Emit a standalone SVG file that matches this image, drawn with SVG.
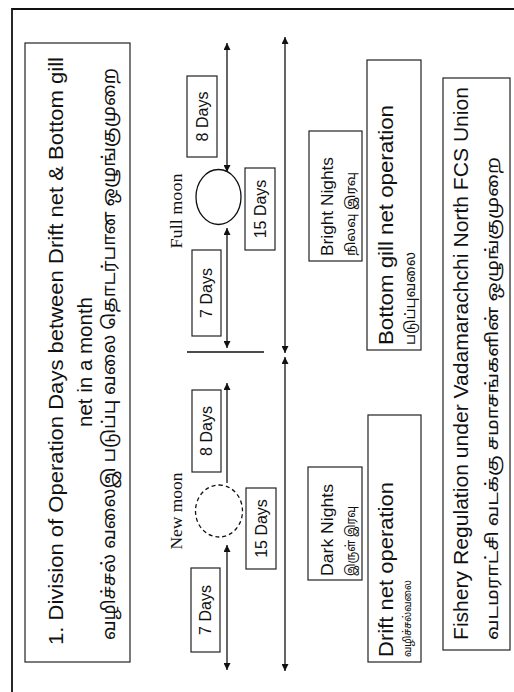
<svg xmlns="http://www.w3.org/2000/svg" width="514" height="692" viewBox="0 0 514 692">
<style>
.box{fill:#fff;stroke:#222;stroke-width:1.2}
.t{font-family:"Liberation Sans","Noto Sans",Arial,sans-serif;fill:#111}
.ta{font-family:"Noto Sans Tamil","Lohit Tamil","Latha","Noto Sans",sans-serif;fill:#111}
.s{font-family:"Liberation Serif","Times New Roman",serif;fill:#111}
.ln{stroke:#111;stroke-width:1.3;fill:none}
</style>
<defs>
<marker id="ah" viewBox="0 0 10 10" refX="10" refY="5" markerWidth="7" markerHeight="7" markerUnits="userSpaceOnUse" orient="auto-start-reverse">
<path d="M0,0 L10,5 L0,10 Z" fill="#111"/>
</marker>
</defs>
<rect width="514" height="692" fill="#fff"/>
<g id="frame">
<path d="M12,692 L12,9 L514,9" fill="none" stroke="#111" stroke-width="1.8"/>
</g>
<g transform="translate(0,692) rotate(-90)">
<g id="title">
<rect class="box" x="30" y="25" width="619" height="105"/>
<text class="t" x="341" y="63" font-size="20" text-anchor="middle" textLength="588" lengthAdjust="spacingAndGlyphs">1. Division of Operation Days between Drift net &amp; Bottom gill</text>
<text class="t" x="330" y="92" font-size="20" text-anchor="middle" textLength="130" lengthAdjust="spacingAndGlyphs">net in a month</text>
<text class="ta" x="338" y="115" font-size="18" text-anchor="middle" textLength="572" lengthAdjust="spacingAndGlyphs">வழிச்சல் வலைஇ படுப்பு வலை தொடர்பான ஒழுங்குமுறை</text>
</g>
<g id="full-moon">
<text class="s" x="481" y="182" font-size="16" text-anchor="middle" textLength="75" lengthAdjust="spacingAndGlyphs">Full moon</text>
<ellipse cx="495" cy="218.5" rx="27.5" ry="22.5" fill="none" stroke="#111" stroke-width="1.3"/>
</g>
<g id="full-8days">
<rect class="box" x="535" y="187" width="81" height="30"/>
<text class="t" x="575.5" y="208" font-size="16" text-anchor="middle">8 Days</text>
</g>
<g id="full-7days">
<rect class="box" x="356" y="192" width="86" height="29"/>
<text class="t" x="399" y="212" font-size="16" text-anchor="middle">7 Days</text>
</g>
<g id="full-15days">
<rect class="box" x="442" y="245" width="82" height="30"/>
<text class="t" x="483" y="266" font-size="16" text-anchor="middle">15 Days</text>
</g>
<g id="new-moon">
<text class="s" x="181" y="182" font-size="16" text-anchor="middle" textLength="77" lengthAdjust="spacingAndGlyphs">New moon</text>
<ellipse cx="181" cy="219" rx="26" ry="23.5" fill="none" stroke="#111" stroke-width="1.3" stroke-dasharray="4,3"/>
</g>
<g id="new-8days">
<rect class="box" x="220" y="192" width="82" height="29"/>
<text class="t" x="261" y="212" font-size="16" text-anchor="middle">8 Days</text>
</g>
<g id="new-15days">
<rect class="box" x="123" y="246" width="81" height="30"/>
<text class="t" x="163.5" y="267" font-size="16" text-anchor="middle">15 Days</text>
</g>
<g id="new-7days">
<rect class="box" x="40" y="191" width="84" height="29"/>
<text class="t" x="82" y="211" font-size="16" text-anchor="middle">7 Days</text>
</g>
<g id="bright-nights">
<rect class="box" x="431" y="309" width="130" height="53"/>
<text class="t" x="436" y="333" font-size="16" textLength="99" lengthAdjust="spacingAndGlyphs">Bright Nights</text>
<text class="ta" x="436" y="355" font-size="13" textLength="84" lengthAdjust="spacingAndGlyphs">நிலவு இரவு</text>
</g>
<g id="dark-nights">
<rect class="box" x="112" y="308" width="113" height="54"/>
<text class="t" x="116" y="333" font-size="16" textLength="92" lengthAdjust="spacingAndGlyphs">Dark Nights</text>
<text class="ta" x="116" y="355" font-size="13" textLength="70" lengthAdjust="spacingAndGlyphs">இருள் இரவு</text>
</g>
<g id="bottom-gill">
<rect class="box" x="342" y="367" width="290" height="54"/>
<text class="t" x="347" y="393" font-size="20" textLength="240" lengthAdjust="spacingAndGlyphs">Bottom gill net operation</text>
<text class="ta" x="347" y="415" font-size="14" textLength="93" lengthAdjust="spacingAndGlyphs">படுப்புவலை</text>
</g>
<g id="drift-net">
<rect class="box" x="30" y="368" width="247" height="53"/>
<text class="t" x="35" y="393" font-size="20" textLength="175" lengthAdjust="spacingAndGlyphs">Drift net operation</text>
<text class="ta" x="35" y="411" font-size="11" textLength="77" lengthAdjust="spacingAndGlyphs">வழிச்சல்வலை</text>
</g>
<g id="fishery">
<rect class="box" x="42" y="443" width="572" height="67"/>
<text class="t" x="52" y="468" font-size="21" textLength="553" lengthAdjust="spacingAndGlyphs">Fishery Regulation under Vadamarachchi North FCS Union</text>
<text class="ta" x="52" y="498" font-size="17" textLength="483" lengthAdjust="spacingAndGlyphs">வடமராட்சி வடக்கு சமாசங்களின் ஒழுங்குமுறை</text>
</g>
<g id="connectors">
<line class="ln" x1="520" y1="227" x2="649" y2="227" marker-start="url(#ah)" marker-end="url(#ah)"/>
<line class="ln" x1="344" y1="227" x2="464" y2="227" marker-start="url(#ah)" marker-end="url(#ah)"/>
<line class="ln" x1="340" y1="187" x2="340" y2="264"/>
<line class="ln" x1="339" y1="285" x2="655" y2="285" marker-start="url(#ah)" marker-end="url(#ah)"/>
<line class="ln" x1="21" y1="285" x2="335" y2="285" marker-start="url(#ah)" marker-end="url(#ah)"/>
<line class="ln" x1="209" y1="227" x2="309" y2="227" marker-end="url(#ah)"/>
<line class="ln" x1="22" y1="227" x2="147" y2="227" marker-start="url(#ah)" marker-end="url(#ah)"/>
</g>
</g>
</svg>
